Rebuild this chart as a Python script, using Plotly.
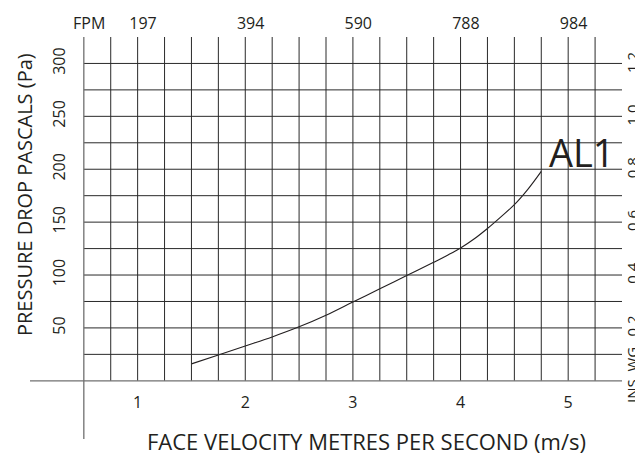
import plotly.graph_objects as go

# ---- data ----
velocity_ms = [1.5, 1.75, 2.0, 2.25, 2.5, 2.75, 3.0, 3.25, 3.5, 3.75, 3.875, 4.0,
               4.125, 4.25, 4.375, 4.5, 4.625, 4.75]
pressure_pa = [16, 24.5, 33, 41.5, 51, 62, 74.5, 87, 99.5, 112, 118.5, 125.5,
               134, 144, 155, 166.5, 181, 198]
series_name = "AL1"

x_ticks = [1, 2, 3, 4, 5]
x_ticklabels = ["1", "2", "3", "4", "5"]
fpm_ticks = [0.5, 1, 2, 3, 4, 5]
fpm_ticklabels = ["FPM", "197", "394", "590", "788", "984"]
pa_ticks = [50, 100, 150, 200, 250, 300]
pa_ticklabels = ["50", "100", "150", "200", "250", "300"]
inwg_ticks = [0.2, 0.4, 0.6, 0.8, 1.0, 1.2]
inwg_ticklabels = ["0.2", "0.4", "0.6", "0.8", "1.0", "1.2"]

grid_x = [0.75, 1.0, 1.25, 1.5, 1.75, 2.0, 2.25, 2.5, 2.75, 3.0, 3.25, 3.5,
          3.75, 4.0, 4.25, 4.5, 4.75, 5.0, 5.25]
grid_y = [25, 50, 75, 100, 125, 150, 175, 200, 225, 250, 275, 300]

PA_PER_INWG = 249.09
X_RANGE = [0, 5.5]
Y_RANGE = [-55, 325]

FONT = "Open Sans"
INK = "#231f20"
GRID = "#2a2a2a"
AXIS = "#707070"

fig = go.Figure()

fig.add_trace(go.Scatter(
    x=velocity_ms, y=pressure_pa, mode="lines", name=series_name,
    line=dict(color=INK, width=1.1, shape="spline", smoothing=1.0),
    showlegend=False, hoverinfo="x+y",
))

shapes = []
for gy in grid_y:
    shapes.append(dict(type="line", xref="x", yref="y", x0=0.5, x1=X_RANGE[1],
                       y0=gy, y1=gy, line=dict(color=GRID, width=1)))
for gx in grid_x:
    shapes.append(dict(type="line", xref="x", yref="y", x0=gx, x1=gx,
                       y0=0, y1=Y_RANGE[1], line=dict(color=GRID, width=1)))
shapes.append(dict(type="line", xref="x", yref="y", x0=X_RANGE[0], x1=X_RANGE[1],
                   y0=0, y1=0, line=dict(color=AXIS, width=1.3)))
shapes.append(dict(type="line", xref="x", yref="y", x0=0.5, x1=0.5,
                   y0=Y_RANGE[0], y1=Y_RANGE[1], line=dict(color=AXIS, width=1.3)))

zero_pos = (0 - Y_RANGE[0]) / (Y_RANGE[1] - Y_RANGE[0])
left_pos = (0.5 - X_RANGE[0]) / (X_RANGE[1] - X_RANGE[0])

common = dict(showgrid=False, zeroline=False, showline=False, ticks="", automargin=False)

# the page body offsets the figure by 8px; margins compensate for that
fig.update_layout(
    width=643, height=455,
    margin=dict(l=22, r=29, t=29, b=24, autoexpand=False),
    paper_bgcolor="white", plot_bgcolor="white",
    font=dict(family=FONT, color=INK, size=16),
    showlegend=False,
    shapes=shapes,
    xaxis=dict(
        range=X_RANGE, anchor="free", position=zero_pos,
        tickvals=x_ticks, ticktext=x_ticklabels,
        ticklabelstandoff=10, tickfont=dict(size=16, family=FONT, color=INK), **common,
    ),
    xaxis2=dict(
        range=X_RANGE, overlaying="x", side="top", anchor="y",
        tickvals=[v + 0.05 for v in fpm_ticks], ticktext=fpm_ticklabels,
        ticklabelstandoff=4, tickfont=dict(size=16, family=FONT, color=INK), **common,
    ),
    yaxis=dict(
        range=Y_RANGE, anchor="free", position=left_pos,
        tickvals=pa_ticks, ticktext=pa_ticklabels, tickangle=-90,
        ticklabelstandoff=16, tickfont=dict(size=16, family=FONT, color=INK), **common,
    ),
    yaxis2=dict(
        range=[Y_RANGE[0] / PA_PER_INWG, Y_RANGE[1] / PA_PER_INWG],
        overlaying="y", side="right", anchor="x",
        tickvals=inwg_ticks, ticktext=inwg_ticklabels, tickangle=-90,
        ticklabelstandoff=0, tickfont=dict(size=15, family=FONT, color=INK), **common,
    ),
)

fig.add_trace(go.Scatter(x=[None], y=[None], xaxis="x2", yaxis="y2",
                         showlegend=False, hoverinfo="skip"))

fig.add_annotation(text=series_name, xref="x", yref="y", x=5.13, y=216,
                   showarrow=False, font=dict(size=38, family=FONT, color=INK),
                   xanchor="center", yanchor="middle")
fig.add_annotation(text="FACE VELOCITY METRES PER SECOND (m/s)", xref="paper", yref="paper",
                   x=(366 - 30) / 592, y=-0.005, showarrow=False,
                   font=dict(size=22, family=FONT, color=INK),
                   xanchor="center", yanchor="middle")
fig.add_annotation(text="PRESSURE DROP PASCALS (Pa)", xref="paper", yref="paper",
                   x=-6 / 592, y=(439 - 195) / 402, showarrow=False, textangle=-90,
                   font=dict(size=20, family=FONT, color=INK),
                   xanchor="center", yanchor="middle")
fig.add_annotation(text="INS  WG", xref="paper", yref="paper",
                   x=(632 - 30) / 592, y=(439 - 375) / 402, showarrow=False, textangle=-90,
                   font=dict(size=15, family=FONT, color=INK),
                   xanchor="center", yanchor="middle")

fig.write_html("out.html")
